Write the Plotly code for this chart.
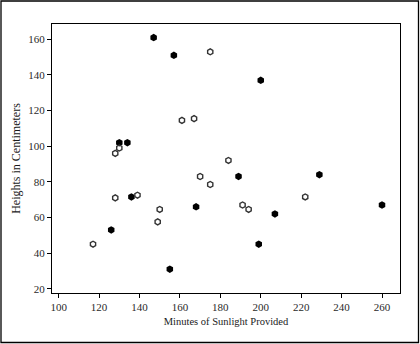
import plotly.graph_objects as go

# Plant heights vs. minutes of sunlight, two groups
group_a_minutes = [147, 157, 200, 130, 134, 136, 126, 155, 168, 189, 199, 207, 229, 260]
group_a_heights = [161, 151, 137, 102, 102, 71.5, 53, 31, 66, 83, 45, 62, 84, 67]

group_b_minutes = [175, 161, 167, 130, 128, 184, 170, 175, 128, 139, 150, 149, 191, 194, 222, 117]
group_b_heights = [153, 114.5, 115.5, 99, 96, 92, 83, 78.5, 71, 72.5, 64.5, 57.5, 67, 64.5, 71.5, 45]

x_ticks = [100, 120, 140, 160, 180, 200, 220, 240, 260]
y_ticks = [20, 40, 60, 80, 100, 120, 140, 160]

W, H = 420, 344
ML, MR, MT, MB = 52, 20, 24, 51
PW, PH = W - ML - MR, H - MT - MB

fig = go.Figure()
fig.add_trace(go.Scatter(
    x=group_a_minutes, y=group_a_heights, mode="markers",
    marker=dict(symbol="hexagon", size=7.5, color="black", line=dict(width=0)),
    showlegend=False,
))
fig.add_trace(go.Scatter(
    x=group_b_minutes, y=group_b_heights, mode="markers",
    marker=dict(symbol="hexagon-open", size=6, color="#333333", line=dict(width=1.4)),
    showlegend=False,
))

axis_common = dict(
    showgrid=False, zeroline=False, showline=True, linecolor="black", linewidth=1,
    mirror=True, ticks="outside", ticklen=4, tickcolor="black", tickwidth=1,
    tickfont=dict(family="Liberation Serif", size=11, color="#2a2a2a"),
)

fig.update_xaxes(
    range=[96.7, 268.9], tickvals=x_ticks,
    title=dict(text="Minutes of Sunlight Provided", standoff=5,
               font=dict(family="Liberation Serif", size=10.5, color="#1a1a1a")),
    **axis_common,
)
fig.update_yaxes(
    range=[17.6, 168.6], tickvals=y_ticks,
    title=dict(text="Heights in Centimeters", standoff=5,
               font=dict(family="Liberation Serif", size=12, color="#1a1a1a")),
    **axis_common,
)

# Frame around the whole figure
fig.add_shape(
    type="rect", xref="paper", yref="paper",
    x0=(1 - ML) / PW, x1=(418.5 - ML) / PW,
    y0=(H - MB - 342.5) / PH, y1=(H - MB - 1) / PH,
    line=dict(color="black", width=1.3),
)

fig.update_layout(
    width=W, height=H,
    margin=dict(l=ML, r=MR, t=MT, b=MB),
    paper_bgcolor="white", plot_bgcolor="white",
)

fig.write_html("out.html")
